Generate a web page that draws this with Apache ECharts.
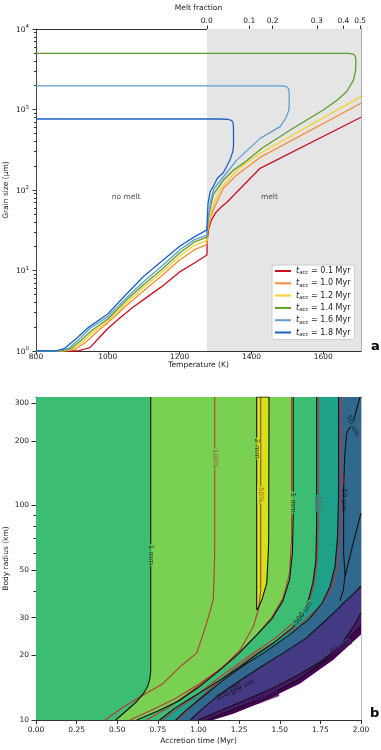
<!DOCTYPE html>
<html><head><meta charset="utf-8">
<script src="https://cdn.jsdelivr.net/npm/echarts@6/dist/echarts.min.js"></script>
<style>html,body{margin:0;padding:0;background:#fff}#c{width:381px;height:750px}</style>
</head><body><div id="c"></div>
<script>
// ---------- Panel a data ----------
var accTimes = ['0.1', '1.0', '1.2', '1.4', '1.6', '1.8'];
var curve01 = [[800,1],[900,1],[920,1.01],[950,1.1],[975,1.45],[1000,1.9],[1035,2.6],[1070,3.5],[1110,4.7],[1150,6.3],[1200,9.6],[1240,12.3],[1276,15.6],[1277,24],[1281,33],[1288,42],[1300,52],[1315,61],[1331,70],[1424,186],[1705,801]];
var curve10 = [[800,1],[880,1],[910,1.06],[940,1.3],[970,1.75],[1000,2.25],[1050,3.6],[1100,5.6],[1150,8.6],[1200,13.5],[1240,18],[1276,21],[1277,28],[1280,34],[1285,45],[1294,57],[1310,82],[1322,105],[1359,154],[1424,254],[1705,1194]];
var curve12 = [[800,1],[870,1],[900,1.05],[930,1.3],[960,1.75],[1000,2.36],[1050,3.9],[1100,6.2],[1150,9.5],[1200,15],[1240,20.5],[1276,23.5],[1277,30],[1280,37],[1286,50],[1294,65],[1312,100],[1359,177],[1424,286],[1705,1443]];
var curve14 = [[800,1],[865,1],[895,1.06],[925,1.35],[955,1.8],[1000,2.5],[1050,4.2],[1100,6.7],[1150,10.3],[1200,16.5],[1240,22.5],[1276,26],[1277,33],[1280,46],[1287,65],[1294,88],[1322,133],[1350,177],[1377,214],[1429,330],[1508,556],[1600,985],[1640,1320],[1665,1660],[1684,2320],[1690,3090],[1691,4000],[1689,4600],[1683,4880],[1670,4990],[800,4990]];
var curve16 = [[800,1],[860,1],[890,1.07],[920,1.4],[950,1.9],[1000,2.67],[1050,4.5],[1100,7.3],[1150,11.3],[1200,18],[1240,24],[1276,27.5],[1277,35],[1280,42.4],[1286,72],[1296,105],[1322,146],[1359,235],[1424,438],[1480,612],[1496,790],[1503,950],[1505,1086],[1505,1660],[1502,1850],[1496,1940],[1480,1960],[800,1960]];
var curve18 = [[800,1],[855,1],[880,1.08],[910,1.4],[945,1.95],[1000,2.88],[1050,5],[1100,8.5],[1150,13],[1200,20],[1240,26],[1276,32],[1277,45],[1279,68],[1285,95],[1294,112],[1305,140],[1322,165],[1340,236],[1348,300],[1350,350],[1350,560],[1349,675],[1345,730],[1335,755],[1310,762],[800,762]];
var meltOnsetT = 1276;
var tempTicks = [800, 1000, 1200, 1400, 1600];
var meltFractionLabels = ['0.0', '0.1', '0.2', '0.3', '0.4', '0.5'];
var meltFractionTemps = [1275.5, 1394, 1459, 1582, 1656, 1702.5];
var grainMinor = [2,3,4,5,6,7,8,9,20,30,40,50,60,70,80,90,200,300,400,500,600,700,800,900,2000,3000,4000,5000,6000,7000,8000,9000];
var regionTextA = [['no melt', 1051, 82], ['melt', 1450, 82]];

// ---------- Panel b data ----------
var radiusTicks = [10, 20, 30, 50, 100, 200, 300];
var radiusMinor = [40, 60, 70, 80, 90];
var bndB1 = [[0.706,320],[0.706,17],[0.70,15.5],[0.688,14.4],[0.665,13.4],[0.62,12.2],[0.56,11.1],[0.49,10]];
var bndYellow = [[1.358,320],[1.434,320],[1.432,70],[1.43,62],[1.42,43.4],[1.39,36.3],[1.37,33.5],[1.358,32.6],[1.358,320]];
var bndB3 = [[1.583,320],[1.583,90],[1.578,60],[1.56,45],[1.52,36],[1.45,29.5],[1.36,25],[1.25,20.5],[1.12,16.8],[1.0,14.2],[0.88,12.3],[0.75,11],[0.62,10]];
var bndB4 = [[1.727,320],[1.727,80],[1.722,55],[1.705,44],[1.68,37],[1.645,31.5],[1.58,27],[1.46,22.8],[1.358,20.2],[1.255,17.7],[1.153,15.7],[1.05,14],[0.95,12.6],[0.85,11.3],[0.76,10]];
var bndB5 = [[1.862,320],[1.862,110],[1.855,70],[1.84,52],[1.81,42],[1.76,35],[1.68,29.5],[1.56,25],[1.42,21],[1.28,18],[1.15,15.3],[1.03,12.9],[0.93,11.2],[0.86,10]];
var bndB6 = [[2.0,42],[1.95,38.5],[1.9,35.5],[1.85,32.5],[1.78,29],[1.66,24],[1.52,20.5],[1.38,17.6],[1.24,15],[1.12,13],[1.02,11.2],[0.95,10]];
var bndB7 = [[2.0,31.6],[1.95,27],[1.871,22],[1.75,18.7],[1.6,16],[1.45,14],[1.3,12.5],[1.15,11.2],[1.0,10]];
var bndB8 = [[2.0,27.5],[1.83,20.3],[1.625,15.6],[1.42,12.9],[1.214,11.2],[1.05,10]];
var bndEdge = [[2.0,25],[1.83,19.1],[1.625,14.8],[1.378,12],[1.214,10.7],[1.09,10]];
var melt100 = [[1.10,320],[1.10,62],[1.095,45],[1.091,36.3],[1.06,30],[1.03,25.4],[0.989,20.5],[0.886,17.7],[0.783,14.8],[0.64,12.8],[0.537,11.5],[0.425,10]];
var melt50 = [[1.383,320],[1.383,40],[1.37,33],[1.337,27.2],[1.255,21.2],[1.153,17.7],[1.009,14.8],[0.85,12.5],[0.70,11],[0.578,10]];
var melt25 = [[1.573,320],[1.573,70],[1.56,48],[1.52,37],[1.45,30],[1.35,24.5],[1.22,19.5],[1.08,16],[0.95,13.5],[0.82,11.5],[0.68,10]];
var melt10 = [[1.737,320],[1.737,80],[1.73,55],[1.71,42],[1.67,34],[1.6,29],[1.47,24],[1.33,20.3],[1.2,17.3],[1.07,14.6],[0.95,12.4],[0.85,11],[0.78,10]];
var melt1 = [[1.881,320],[1.88,120],[1.872,70],[1.855,52],[1.82,41],[1.75,34],[1.64,28.5],[1.5,24],[1.36,20.5],[1.22,17.3],[1.1,14.6],[0.99,12.3],[0.9,10.5],[0.86,10]];
var line50um = [[1.994,320],[1.955,250],[1.912,217],[1.9,170],[1.893,120],[1.893,60],[1.902,46.7]];
var lineDiag = [[2.0,92],[1.95,66],[1.902,46.7],[1.89,40],[1.87,36]];
var grainLabels = ['1 mm','2 mm','1 mm','500 µm','20 µm','10 µm','200 µm','100 µm','50 µm','50 µm'];
var grainLabelPos = [[0.706,58.8],[1.358,184],[1.583,103],[1.645,31.5],[1.871,22],[1.42,12.8],[1.19,13.3],[1.265,14.4],[1.95,235],[1.896,106]];
var meltLabels = ['100%','50%','25%','10%','1%'];
var meltLabelPos = [[1.10,165],[1.383,112],[1.573,103],[1.737,102],[1.885,132]];

// ---------- styles ----------
var FONT = 'DejaVu Sans';
var lineColors = ['#cc1020','#f98a36','#fccf2c','#5a9e2a','#5e9fd3','#1a62c2'];
var cGreen='#3dbc74', cLGreen='#7ad151', cYellow='#d2e21b', cTeal='#1fa088', cBlue='#31688e', cIndigo='#443983', cPurple='#48186a', cDark='#440154';
var redC = '#b33a35';

var fills = [
  {pts: [[0,320],[0,10],[2,10],[2,320]], c: cGreen},
  {pts: bndB1, c: cLGreen, open: true},
  {pts: bndYellow, c: cYellow},
  {pts: bndB3, c: cGreen, open: true},
  {pts: bndB4, c: cTeal, open: true},
  {pts: bndB5, c: cBlue, open: true},
  {pts: bndB6, c: cIndigo, open: true},
  {pts: bndB7, c: cPurple, open: true},
  {pts: bndB8, c: cDark, open: true},
  {pts: bndEdge, c: '#ffffff', open: true}
];
function sideGrad(a, b){
  return new echarts.graphic.LinearGradient(0,0,0,1,[{offset:0,color:a},{offset:0.5,color:a},{offset:0.5,color:b},{offset:1,color:b}]);
}
var grainLabelStyle = [
  {rot:-90, bg: sideGrad(cLGreen,cGreen)},
  {rot:-90, bg: sideGrad(cYellow,cLGreen)},
  {rot:-90, bg: sideGrad(cGreen,cLGreen)},
  {rot:55, bg: sideGrad(cGreen,cTeal)},
  {rot:30, bg: sideGrad(cIndigo,cPurple)},
  {rot:20, bg: sideGrad(cPurple,cDark)},
  {rot:20, bg: null},
  {rot:20, bg: null},
  {rot:-65, bg: cBlue},
  {rot:-90, bg: null}
];
var meltLabelStyle = [
  {rot:-90, bg: cLGreen},{rot:-90, bg: cYellow},{rot:-90, bg: null},{rot:-90, bg: cTeal},{rot:-90, bg: null}
];

var chart = echarts.init(document.getElementById('c'), null, {renderer:'canvas'});
var curves = [curve01, curve10, curve12, curve14, curve16, curve18];
var series = [];

series.push({type:'line', xAxisIndex:0, yAxisIndex:0, data:[], z:0,
  markArea:{silent:true, itemStyle:{color:'#e5e5e5'}, data:[[{xAxis:meltOnsetT},{xAxis:1705}]]}});
curves.forEach(function(cv, i){
  series.push({type:'line', name: accTimes[i], xAxisIndex:0, yAxisIndex:0, data: cv, symbol:'none', smooth:false,
    lineStyle:{width:1.3, color: lineColors[i]}, itemStyle:{color: lineColors[i]}, z: 3+i});
});
series.push({type:'scatter', xAxisIndex:0, yAxisIndex:0, symbolSize:0.1, itemStyle:{color:'rgba(0,0,0,0)'},
  data: regionTextA.map(function(r){return {value:[r[1], r[2]], name:r[0]};}),
  label:{show:true, position:'inside', formatter:'{b}', color:'#222', fontSize:7.5, fontFamily:FONT}, z:10});

series.push({type:'custom', xAxisIndex:2, yAxisIndex:3, clip:true, z:1,
  data: fills.map(function(f, i){return [1, 100, i];}),
  encode:{x:0, y:1},
  renderItem: function(params, api){
    var f = fills[api.value(2)];
    var pts = f.pts.slice();
    if (f.open) { pts = pts.concat([[2,10],[2,320]]); }
    return {type:'polygon', shape:{points: pts.map(function(p){return api.coord(p);})}, style:{fill: f.c}, silent:true};
  }});
function addLine(d, color, w){
  series.push({type:'line', xAxisIndex:2, yAxisIndex:3, data:d, symbol:'none', lineStyle:{color:color, width:w}, z:4, silent:true});
}
[melt100, melt50, melt25, melt10, melt1].forEach(function(d){ addLine(d, redC, 1.1); });
[bndB1, bndYellow, bndB3, bndB4, bndB5, bndB6, bndB7, bndB8, line50um, lineDiag].forEach(function(d){ addLine(d, '#111', 1.1); });

series.push({type:'scatter', xAxisIndex:2, yAxisIndex:3, symbolSize:0.1, itemStyle:{color:'rgba(0,0,0,0)'}, z:8, silent:true,
  data: meltLabels.map(function(t, i){
    return {value: meltLabelPos[i], label:{show:true, formatter:t, rotate: meltLabelStyle[i].rot, color:redC, fontSize:7, fontFamily:FONT, position:'inside', backgroundColor: meltLabelStyle[i].bg, padding:[0,1]}};
  })});
series.push({type:'scatter', xAxisIndex:2, yAxisIndex:3, symbolSize:0.1, itemStyle:{color:'rgba(0,0,0,0)'}, z:9, silent:true,
  data: grainLabels.map(function(t, i){
    return {value: grainLabelPos[i], label:{show:true, formatter:t, rotate: grainLabelStyle[i].rot, color:'#111', fontSize:7, fontFamily:FONT, position:'inside', backgroundColor: grainLabelStyle[i].bg, padding:[0,1]}};
  })});

var supRich = {b:{fontSize:7.5, fontFamily:FONT, color:'#222', lineHeight:10, verticalAlign:'bottom'}, s:{fontSize:5.5, fontFamily:FONT, color:'#222', lineHeight:10, verticalAlign:'top'}};

var option = {
  animation:false,
  backgroundColor:'#fff',
  textStyle:{fontFamily:FONT},
  grid:[{left:36, right:20, top:29, height:322, outerBoundsMode:'none', containLabel:false},
        {left:36, right:20, top:397, height:323, outerBoundsMode:'none', containLabel:false}],
  legend:{data:accTimes, orient:'vertical', left:272, top:265, icon:'rect', itemWidth:16, itemHeight:2, itemGap:3.3,
    backgroundColor:'#fff', borderColor:'#ccc', borderWidth:1, borderRadius:2, padding:[2,4,2,3],
    formatter:function(n){ return '{t|t}{s|acc}{r| = ' + n + ' Myr}'; },
    textStyle:{color:'#222', fontFamily:FONT, rich:{
      t:{fontStyle:'italic', fontSize:8, fontFamily:FONT, lineHeight:10},
      s:{fontStyle:'italic', fontSize:5.5, fontFamily:FONT, lineHeight:10, verticalAlign:'bottom', padding:[3,0,0,0]},
      r:{fontSize:8, fontFamily:FONT, lineHeight:10}}}},
  xAxis:[
    {type:'value', gridIndex:0, min:800, max:1705, name:'Temperature (K)', nameLocation:'middle', nameGap:10, nameMoveOverlap:false,
     nameTextStyle:{fontSize:7.5, color:'#222'},
     axisLine:{lineStyle:{color:'#333', width:1}}, splitLine:{show:false},
     axisTick:{customValues:tempTicks, length:3.5, lineStyle:{color:'#333'}},
     axisLabel:{customValues:tempTicks, fontSize:7.5, color:'#222', margin:2, formatter:function(v){return String(v);}}},
    {type:'value', gridIndex:0, position:'top', min:800, max:1705, name:'Melt fraction', nameLocation:'middle', nameGap:17, nameMoveOverlap:false,
     nameTextStyle:{fontSize:7.5, color:'#222'},
     axisLine:{lineStyle:{color:'#333', width:1}}, splitLine:{show:false},
     axisTick:{customValues:meltFractionTemps, length:3.5, lineStyle:{color:'#333'}},
     axisLabel:{customValues:meltFractionTemps, fontSize:7.5, color:'#222', margin:4,
       formatter:function(v){ var best=0; for (var i=0;i<meltFractionTemps.length;i++){ if (Math.abs(meltFractionTemps[i]-v) < Math.abs(meltFractionTemps[best]-v)) best=i; } return meltFractionLabels[best]; }}},
    {type:'value', gridIndex:1, min:0, max:2, interval:0.25, name:'Accretion time (Myr)', nameLocation:'middle', nameGap:17, nameMoveOverlap:false,
     nameTextStyle:{fontSize:7.5, color:'#222'},
     axisLine:{lineStyle:{color:'#333', width:1}}, splitLine:{show:false},
     axisTick:{length:4, lineStyle:{color:'#333'}},
     axisLabel:{fontSize:7.5, color:'#222', margin:6, formatter:function(v){return v.toFixed(2);}}},
    {type:'value', gridIndex:1, position:'top', min:0, max:1, axisLine:{lineStyle:{color:'#333'}}, axisTick:{show:false}, axisLabel:{show:false}, splitLine:{show:false}}
  ],
  yAxis:[
    {type:'log', gridIndex:0, position:'left', min:1, max:10000, logBase:10, name:'Grain size (µm)', nameLocation:'middle', nameGap:26, nameMoveOverlap:false,
     nameTextStyle:{fontSize:7.5, color:'#222'},
     axisLine:{show:true, lineStyle:{color:'#444', width:1}}, splitLine:{show:false},
     axisTick:{length:3.5, lineStyle:{color:'#333'}},
     axisLabel:{margin:7, formatter:function(v){ return '{b|10}{s|' + Math.round(Math.log10(v)) + '}'; }, rich: supRich}},
    {type:'log', gridIndex:0, position:'left', min:1, max:10000, logBase:10, axisLine:{show:false}, splitLine:{show:false}, axisLabel:{show:false},
     axisTick:{customValues:grainMinor, length:2, lineStyle:{color:'#333'}}},
    {type:'value', gridIndex:0, position:'right', min:0, max:1, axisLine:{show:true, lineStyle:{color:'#999', width:1.5}}, axisTick:{show:false}, axisLabel:{show:false}, splitLine:{show:false}},
    {type:'log', gridIndex:1, position:'left', min:10, max:320, logBase:10, name:'Body radius (km)', nameLocation:'middle', nameGap:26, nameMoveOverlap:false,
     nameTextStyle:{fontSize:7.5, color:'#222'},
     axisLine:{show:true, lineStyle:{color:'#666', width:1}}, splitLine:{show:false},
     axisTick:{customValues:radiusTicks, length:4.5, lineStyle:{color:'#333'}},
     axisLabel:{customValues:radiusTicks, fontSize:7.5, color:'#222', margin:7}},
    {type:'log', gridIndex:1, position:'left', min:10, max:320, logBase:10, axisLine:{show:false}, splitLine:{show:false}, axisLabel:{show:false},
     axisTick:{customValues:radiusMinor, length:2.5, lineStyle:{color:'#333'}}},
    {type:'value', gridIndex:1, position:'right', min:0, max:1, axisLine:{show:true, lineStyle:{color:'#aaa', width:1.5}}, axisTick:{show:false}, axisLabel:{show:false}, splitLine:{show:false}}
  ],
  graphic:[
    {type:'text', left:371, top:340, style:{text:'a', font:'bold 13px "DejaVu Sans"', fill:'#000'}},
    {type:'text', left:370, top:707, style:{text:'b', font:'bold 13px "DejaVu Sans"', fill:'#000'}}
  ],
  series: series
};
chart.setOption(option);
</script></body></html>
